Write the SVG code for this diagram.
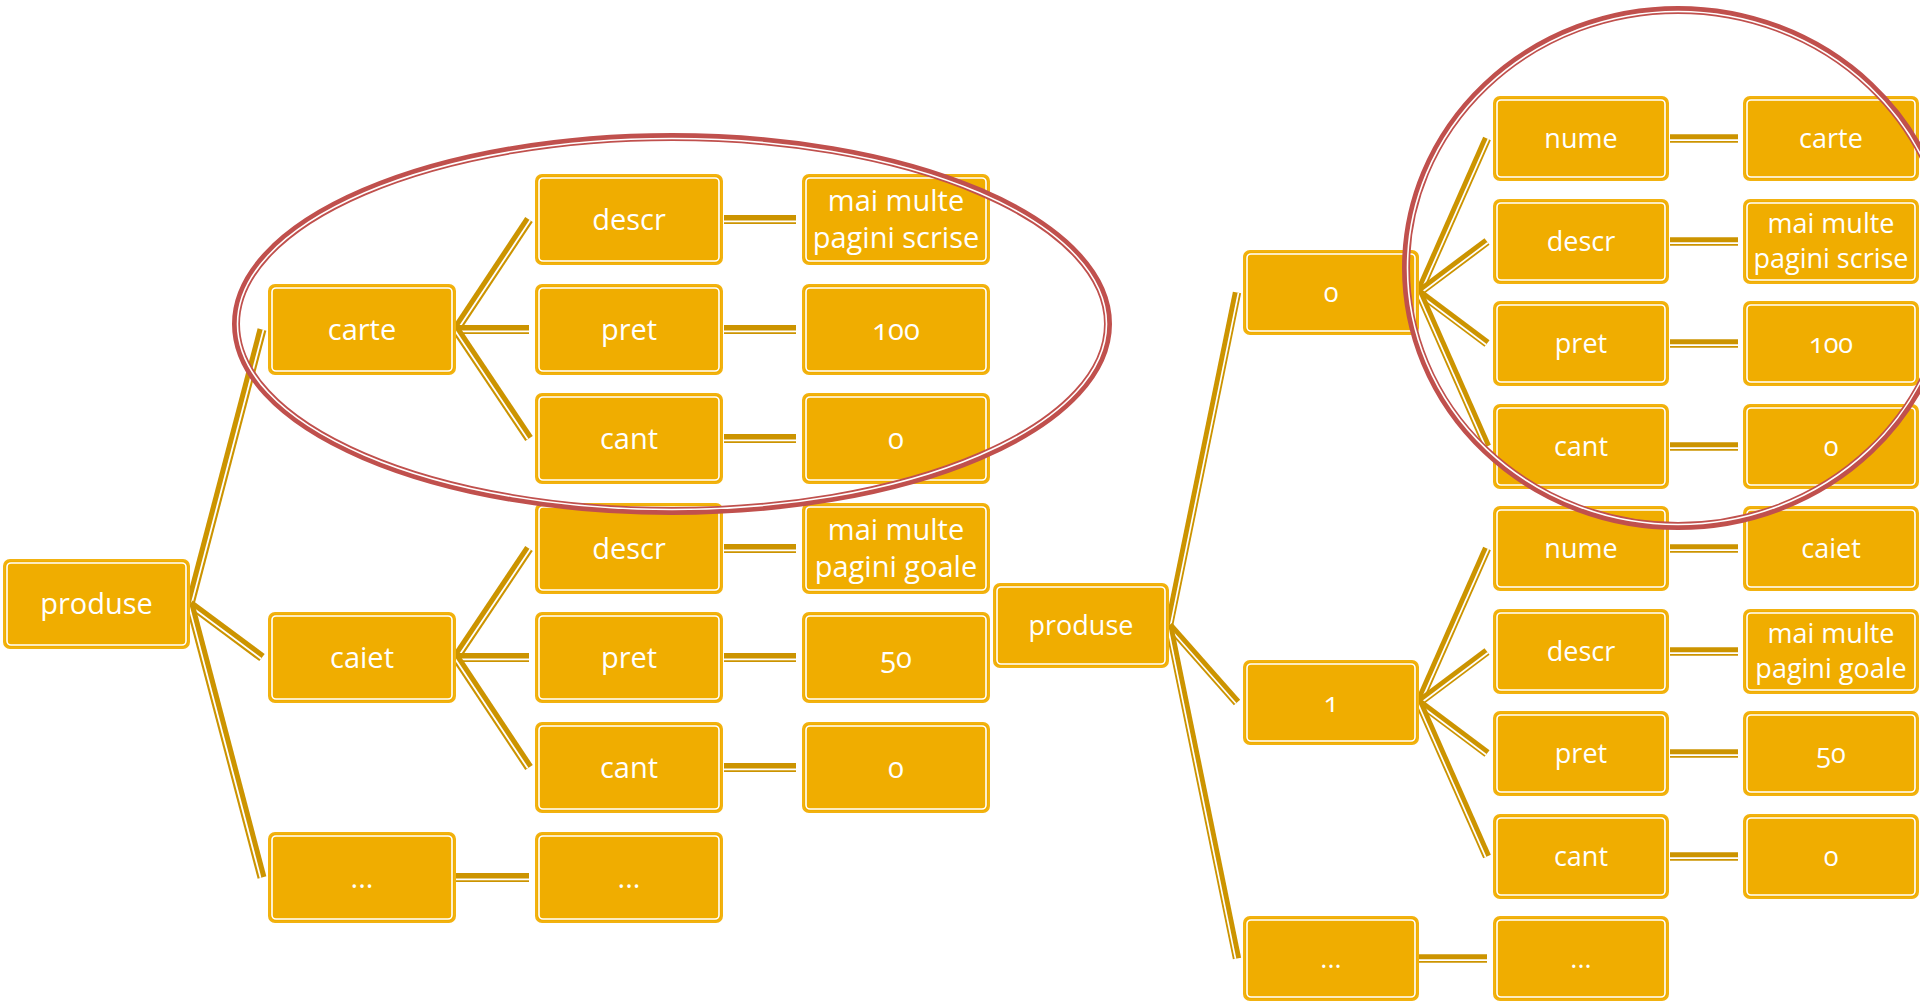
<svg xmlns="http://www.w3.org/2000/svg" width="1920" height="1001" viewBox="0 0 1920 1001">
<style>
.o{fill:#F0AD00;stroke:#F2B20F;stroke-width:2}
.i{fill:none;stroke:#FFFFFF;stroke-width:1.6}
text{font-family:"Open Sans","Liberation Sans",sans-serif;fill:#FFFFFF;text-anchor:middle;font-variant-numeric:oldstyle-nums}
.L{font-size:29px}
.R{font-size:27px}
.k{stroke:#CC9400;stroke-width:9;stroke-linecap:butt}
.w{stroke:#FFFFFF;stroke-width:1.8;stroke-linecap:butt}
.kr{stroke:#CC9400;stroke-width:8.4;stroke-linecap:butt}
.wr{stroke:#FFFFFF;stroke-width:1.7;stroke-linecap:butt}
.e1{fill:none;stroke:#C0504D;stroke-width:8}
.e2{fill:none;stroke:#FFFFFF;stroke-width:1.6}
</style>
<rect width="1920" height="1001" fill="#FFFFFF"/>

<g id="connectors">
 <!-- left tree -->
 <line class="k" x1="190" y1="604" x2="262" y2="329.5"/><line class="w" x1="191.45" y1="604.38" x2="263.45" y2="329.88"/>
 <line class="k" x1="190" y1="604" x2="262" y2="657.5"/><line class="w" x1="189.11" y1="605.21" x2="261.11" y2="658.71"/>
 <line class="k" x1="190" y1="604" x2="262" y2="877.5"/><line class="w" x1="188.55" y1="604.38" x2="260.55" y2="877.88"/>

 <line class="k" x1="456" y1="329.5" x2="529" y2="219.5"/><line class="w" x1="457.25" y1="330.33" x2="530.25" y2="220.33"/>
 <line class="k" x1="456" y1="329.5" x2="529" y2="329.5"/><line class="w" x1="456" y1="331.3" x2="529" y2="331.3"/>
 <line class="k" x1="456" y1="329.5" x2="529" y2="438.5"/><line class="w" x1="454.75" y1="330.33" x2="527.75" y2="439.33"/>

 <line class="k" x1="456" y1="657.5" x2="529" y2="548.5"/><line class="w" x1="457.25" y1="658.33" x2="530.25" y2="549.33"/>
 <line class="k" x1="456" y1="657.5" x2="529" y2="657.5"/><line class="w" x1="456" y1="659.3" x2="529" y2="659.3"/>
 <line class="k" x1="456" y1="657.5" x2="529" y2="767.5"/><line class="w" x1="454.75" y1="658.33" x2="527.75" y2="768.33"/>

 <line class="k" x1="456" y1="877.5" x2="529" y2="877.5"/><line class="w" x1="456" y1="879.3" x2="529" y2="879.3"/>

 <line class="k" x1="724" y1="219.5" x2="796" y2="219.5"/><line class="w" x1="724" y1="221.3" x2="796" y2="221.3"/>
 <line class="k" x1="724" y1="329.5" x2="796" y2="329.5"/><line class="w" x1="724" y1="331.3" x2="796" y2="331.3"/>
 <line class="k" x1="724" y1="438.5" x2="796" y2="438.5"/><line class="w" x1="724" y1="440.3" x2="796" y2="440.3"/>
 <line class="k" x1="724" y1="548.5" x2="796" y2="548.5"/><line class="w" x1="724" y1="550.3" x2="796" y2="550.3"/>
 <line class="k" x1="724" y1="657.5" x2="796" y2="657.5"/><line class="w" x1="724" y1="659.3" x2="796" y2="659.3"/>
 <line class="k" x1="724" y1="767.5" x2="796" y2="767.5"/><line class="w" x1="724" y1="769.3" x2="796" y2="769.3"/>

 <!-- right tree -->
 <line class="kr" x1="1169" y1="625.5" x2="1237" y2="292.5"/><line class="wr" x1="1170.47" y1="625.8" x2="1238.47" y2="292.8"/>
 <line class="kr" x1="1169" y1="625.5" x2="1237" y2="702.5"/><line class="wr" x1="1167.88" y1="626.49" x2="1235.88" y2="703.49"/>
 <line class="kr" x1="1169" y1="625.5" x2="1237" y2="958.5"/><line class="wr" x1="1167.53" y1="625.8" x2="1235.53" y2="958.8"/>

 <line class="kr" x1="1419" y1="292.5" x2="1487" y2="138.5"/><line class="wr" x1="1420.37" y1="293.11" x2="1488.37" y2="139.11"/>
 <line class="kr" x1="1419" y1="292.5" x2="1487" y2="241.5"/><line class="wr" x1="1419.9" y1="293.7" x2="1487.9" y2="242.7"/>
 <line class="kr" x1="1419" y1="292.5" x2="1487" y2="343.5"/><line class="wr" x1="1418.09" y1="293.7" x2="1486.09" y2="344.7"/>
 <line class="kr" x1="1419" y1="292.5" x2="1487" y2="446.5"/><line class="wr" x1="1417.63" y1="293.11" x2="1485.63" y2="447.11"/>

 <line class="kr" x1="1419" y1="702.5" x2="1487" y2="548.5"/><line class="wr" x1="1420.37" y1="703.11" x2="1488.37" y2="549.11"/>
 <line class="kr" x1="1419" y1="702.5" x2="1487" y2="651.5"/><line class="wr" x1="1419.9" y1="703.7" x2="1487.9" y2="652.7"/>
 <line class="kr" x1="1419" y1="702.5" x2="1487" y2="753.5"/><line class="wr" x1="1418.09" y1="703.7" x2="1486.09" y2="754.7"/>
 <line class="kr" x1="1419" y1="702.5" x2="1487" y2="856.5"/><line class="wr" x1="1417.63" y1="703.11" x2="1485.63" y2="857.11"/>

 <line class="kr" x1="1419" y1="958.5" x2="1487" y2="958.5"/><line class="wr" x1="1419" y1="960.2" x2="1487" y2="960.2"/>

 <line class="kr" x1="1670" y1="138.5" x2="1738" y2="138.5"/><line class="wr" x1="1670" y1="140.2" x2="1738" y2="140.2"/>
 <line class="kr" x1="1670" y1="241.5" x2="1738" y2="241.5"/><line class="wr" x1="1670" y1="243.2" x2="1738" y2="243.2"/>
 <line class="kr" x1="1670" y1="343.5" x2="1738" y2="343.5"/><line class="wr" x1="1670" y1="345.2" x2="1738" y2="345.2"/>
 <line class="kr" x1="1670" y1="446.5" x2="1738" y2="446.5"/><line class="wr" x1="1670" y1="448.2" x2="1738" y2="448.2"/>
 <line class="kr" x1="1670" y1="548.5" x2="1738" y2="548.5"/><line class="wr" x1="1670" y1="550.2" x2="1738" y2="550.2"/>
 <line class="kr" x1="1670" y1="651.5" x2="1738" y2="651.5"/><line class="wr" x1="1670" y1="653.2" x2="1738" y2="653.2"/>
 <line class="kr" x1="1670" y1="753.5" x2="1738" y2="753.5"/><line class="wr" x1="1670" y1="755.2" x2="1738" y2="755.2"/>
 <line class="kr" x1="1670" y1="856.5" x2="1738" y2="856.5"/><line class="wr" x1="1670" y1="858.2" x2="1738" y2="858.2"/>
</g>

<!-- LEFT TREE NODES -->
<g id="L-produse"><rect class="o" x="4" y="560" width="185" height="88" rx="6"/><rect class="i" x="7" y="563" width="179" height="82" rx="4"/><text class="L" x="96.5" y="614">produse</text></g>

<g id="L-carte"><rect class="o" x="269" y="285" width="186" height="89" rx="6"/><rect class="i" x="272" y="288" width="180" height="83" rx="4"/><text class="L" x="362" y="339.5">carte</text></g>
<g id="L-caiet"><rect class="o" x="269" y="613" width="186" height="89" rx="6"/><rect class="i" x="272" y="616" width="180" height="83" rx="4"/><text class="L" x="362" y="667.5">caiet</text></g>
<g id="L-dots1"><rect class="o" x="269" y="833" width="186" height="89" rx="6"/><rect class="i" x="272" y="836" width="180" height="83" rx="4"/><text class="L" x="362" y="887.5">...</text></g>

<g id="L-descr1"><rect class="o" x="536" y="175" width="186" height="89" rx="6"/><rect class="i" x="539" y="178" width="180" height="83" rx="4"/><text class="L" x="629" y="229.5">descr</text></g>
<g id="L-pret1"><rect class="o" x="536" y="285" width="186" height="89" rx="6"/><rect class="i" x="539" y="288" width="180" height="83" rx="4"/><text class="L" x="629" y="339.5">pret</text></g>
<g id="L-cant1"><rect class="o" x="536" y="394" width="186" height="89" rx="6"/><rect class="i" x="539" y="397" width="180" height="83" rx="4"/><text class="L" x="629" y="448.5">cant</text></g>
<g id="L-descr2"><rect class="o" x="536" y="504" width="186" height="89" rx="6"/><rect class="i" x="539" y="507" width="180" height="83" rx="4"/><text class="L" x="629" y="558.5">descr</text></g>
<g id="L-pret2"><rect class="o" x="536" y="613" width="186" height="89" rx="6"/><rect class="i" x="539" y="616" width="180" height="83" rx="4"/><text class="L" x="629" y="667.5">pret</text></g>
<g id="L-cant2"><rect class="o" x="536" y="723" width="186" height="89" rx="6"/><rect class="i" x="539" y="726" width="180" height="83" rx="4"/><text class="L" x="629" y="777.5">cant</text></g>
<g id="L-dots2"><rect class="o" x="536" y="833" width="186" height="89" rx="6"/><rect class="i" x="539" y="836" width="180" height="83" rx="4"/><text class="L" x="629" y="887.5">...</text></g>

<g id="L-v-descr1"><rect class="o" x="803" y="175" width="186" height="89" rx="6"/><rect class="i" x="806" y="178" width="180" height="83" rx="4"/><text class="L" x="896" y="210.5">mai multe</text><text class="L" x="896" y="248">pagini scrise</text></g>
<g id="L-v-pret1"><rect class="o" x="803" y="285" width="186" height="89" rx="6"/><rect class="i" x="806" y="288" width="180" height="83" rx="4"/><text class="L" x="896" y="339.5">100</text></g>
<g id="L-v-cant1"><rect class="o" x="803" y="394" width="186" height="89" rx="6"/><rect class="i" x="806" y="397" width="180" height="83" rx="4"/><text class="L" x="896" y="448.5">0</text></g>
<g id="L-v-descr2"><rect class="o" x="803" y="504" width="186" height="89" rx="6"/><rect class="i" x="806" y="507" width="180" height="83" rx="4"/><text class="L" x="896" y="539.5">mai multe</text><text class="L" x="896" y="577">pagini goale</text></g>
<g id="L-v-pret2"><rect class="o" x="803" y="613" width="186" height="89" rx="6"/><rect class="i" x="806" y="616" width="180" height="83" rx="4"/><text class="L" x="896" y="667.5">50</text></g>
<g id="L-v-cant2"><rect class="o" x="803" y="723" width="186" height="89" rx="6"/><rect class="i" x="806" y="726" width="180" height="83" rx="4"/><text class="L" x="896" y="777.5">0</text></g>

<!-- RIGHT TREE NODES -->
<g id="R-produse"><rect class="o" x="994" y="584" width="174" height="83" rx="6"/><rect class="i" x="997" y="587" width="168" height="77" rx="4"/><text class="R" x="1081" y="635">produse</text></g>

<g id="R-0"><rect class="o" x="1244" y="251" width="174" height="83" rx="6"/><rect class="i" x="1247" y="254" width="168" height="77" rx="4"/><text class="R" x="1331" y="302">0</text></g>
<g id="R-1"><rect class="o" x="1244" y="661" width="174" height="83" rx="6"/><rect class="i" x="1247" y="664" width="168" height="77" rx="4"/><text class="R" x="1331" y="712">1</text></g>
<g id="R-dots1"><rect class="o" x="1244" y="917" width="174" height="83" rx="6"/><rect class="i" x="1247" y="920" width="168" height="77" rx="4"/><text class="R" x="1331" y="968">...</text></g>

<g id="R-nume1"><rect class="o" x="1494" y="97" width="174" height="83" rx="6"/><rect class="i" x="1497" y="100" width="168" height="77" rx="4"/><text class="R" x="1581" y="148">nume</text></g>
<g id="R-descr1"><rect class="o" x="1494" y="200" width="174" height="83" rx="6"/><rect class="i" x="1497" y="203" width="168" height="77" rx="4"/><text class="R" x="1581" y="251">descr</text></g>
<g id="R-pret1"><rect class="o" x="1494" y="302" width="174" height="83" rx="6"/><rect class="i" x="1497" y="305" width="168" height="77" rx="4"/><text class="R" x="1581" y="353">pret</text></g>
<g id="R-cant1"><rect class="o" x="1494" y="405" width="174" height="83" rx="6"/><rect class="i" x="1497" y="408" width="168" height="77" rx="4"/><text class="R" x="1581" y="456">cant</text></g>
<g id="R-nume2"><rect class="o" x="1494" y="507" width="174" height="83" rx="6"/><rect class="i" x="1497" y="510" width="168" height="77" rx="4"/><text class="R" x="1581" y="558">nume</text></g>
<g id="R-descr2"><rect class="o" x="1494" y="610" width="174" height="83" rx="6"/><rect class="i" x="1497" y="613" width="168" height="77" rx="4"/><text class="R" x="1581" y="661">descr</text></g>
<g id="R-pret2"><rect class="o" x="1494" y="712" width="174" height="83" rx="6"/><rect class="i" x="1497" y="715" width="168" height="77" rx="4"/><text class="R" x="1581" y="763">pret</text></g>
<g id="R-cant2"><rect class="o" x="1494" y="815" width="174" height="83" rx="6"/><rect class="i" x="1497" y="818" width="168" height="77" rx="4"/><text class="R" x="1581" y="866">cant</text></g>
<g id="R-dots2"><rect class="o" x="1494" y="917" width="174" height="83" rx="6"/><rect class="i" x="1497" y="920" width="168" height="77" rx="4"/><text class="R" x="1581" y="968">...</text></g>

<g id="R-v-nume1"><rect class="o" x="1744" y="97" width="174" height="83" rx="6"/><rect class="i" x="1747" y="100" width="168" height="77" rx="4"/><text class="R" x="1831" y="148">carte</text></g>
<g id="R-v-descr1"><rect class="o" x="1744" y="200" width="174" height="83" rx="6"/><rect class="i" x="1747" y="203" width="168" height="77" rx="4"/><text class="R" x="1831" y="233">mai multe</text><text class="R" x="1831" y="268">pagini scrise</text></g>
<g id="R-v-pret1"><rect class="o" x="1744" y="302" width="174" height="83" rx="6"/><rect class="i" x="1747" y="305" width="168" height="77" rx="4"/><text class="R" x="1831" y="353">100</text></g>
<g id="R-v-cant1"><rect class="o" x="1744" y="405" width="174" height="83" rx="6"/><rect class="i" x="1747" y="408" width="168" height="77" rx="4"/><text class="R" x="1831" y="456">0</text></g>
<g id="R-v-nume2"><rect class="o" x="1744" y="507" width="174" height="83" rx="6"/><rect class="i" x="1747" y="510" width="168" height="77" rx="4"/><text class="R" x="1831" y="558">caiet</text></g>
<g id="R-v-descr2"><rect class="o" x="1744" y="610" width="174" height="83" rx="6"/><rect class="i" x="1747" y="613" width="168" height="77" rx="4"/><text class="R" x="1831" y="643">mai multe</text><text class="R" x="1831" y="678">pagini goale</text></g>
<g id="R-v-pret2"><rect class="o" x="1744" y="712" width="174" height="83" rx="6"/><rect class="i" x="1747" y="715" width="168" height="77" rx="4"/><text class="R" x="1831" y="763">50</text></g>
<g id="R-v-cant2"><rect class="o" x="1744" y="815" width="174" height="83" rx="6"/><rect class="i" x="1747" y="818" width="168" height="77" rx="4"/><text class="R" x="1831" y="866">0</text></g>

<!-- highlight ellipses -->
<g id="ellipse-left"><ellipse class="e1" cx="672" cy="324" rx="436" ry="187"/><ellipse class="e2" cx="672" cy="324" rx="434.5" ry="185.5"/></g>
<g id="ellipse-right"><ellipse class="e1" cx="1678" cy="268" rx="272" ry="258"/><ellipse class="e2" cx="1678" cy="268" rx="270.5" ry="256.5"/></g>
</svg>
